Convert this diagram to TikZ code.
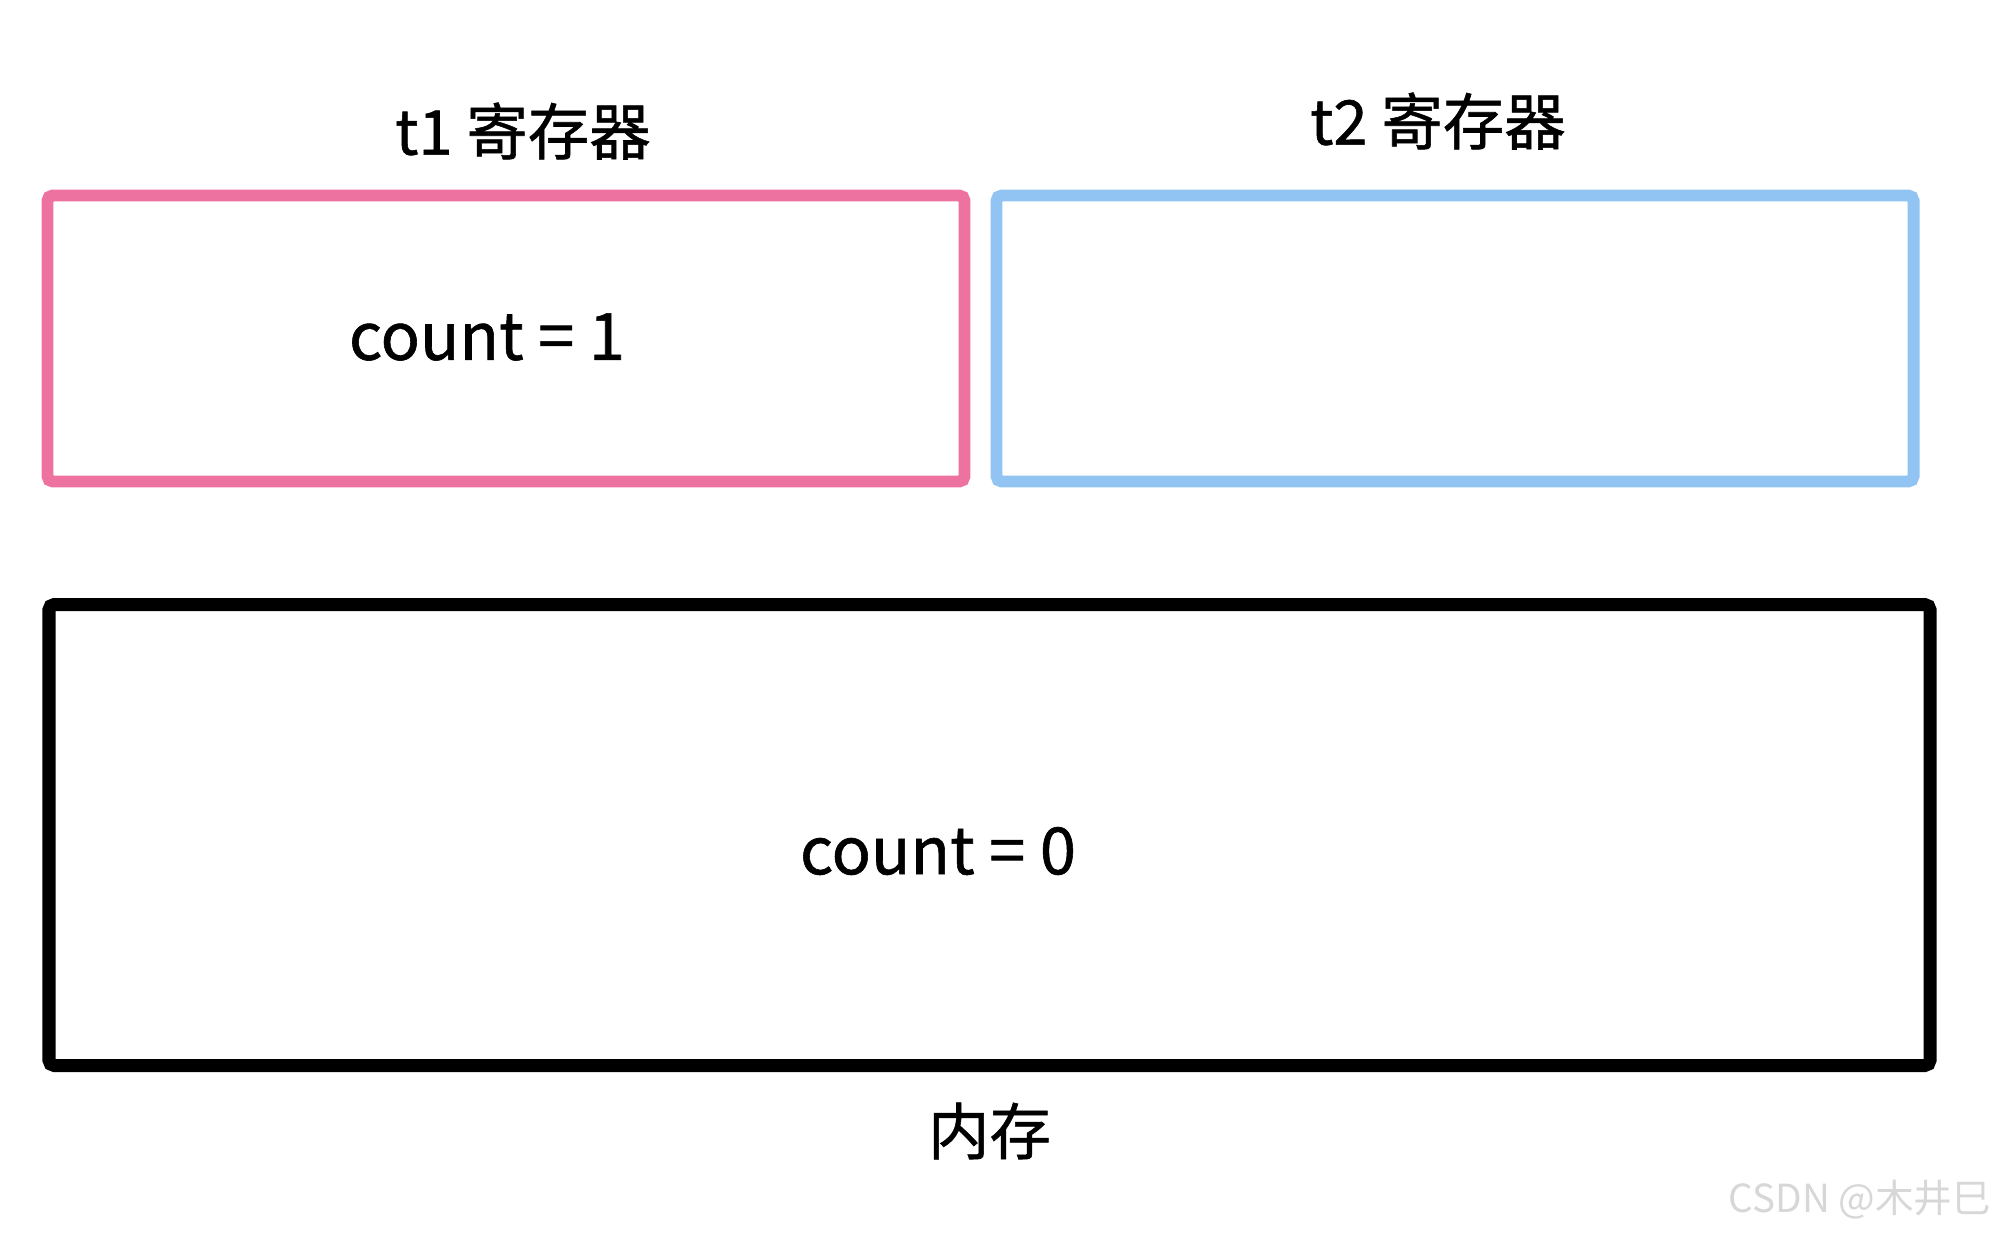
\documentclass[tikz,border=0pt]{standalone}
\usepackage{fontspec}
\setmainfont{Noto Sans CJK SC}
\newfontfamily\medfont[FakeBold=0.9]{Noto Sans CJK SC}
\usetikzlibrary{positioning}
\definecolor{regpink}{RGB}{238,114,160}
\definecolor{regblue}{RGB}{145,196,242}
\definecolor{markgray}{RGB}{215,215,215}
\tikzset{
  regbox/.style={rectangle,rounded corners=1.5pt,line width=3.4pt,minimum width=9.17cm,minimum height=2.86cm,inner sep=0pt},
  t1box/.style={regbox,draw=regpink},
  t2box/.style={regbox,draw=regblue},
  membox/.style={rectangle,rounded corners=1.5pt,draw=black,line width=3.7pt,minimum width=18.81cm,minimum height=4.61cm,inner sep=0pt},
  titletext/.style={font=\medfont\fontsize{17.5}{20}\selectfont,inner sep=0pt},
  valtext/.style={font=\medfont\fontsize{18.5}{22}\selectfont,inner sep=0pt},
  marktext/.style={font=\fontsize{11}{13}\selectfont,text=markgray,inner sep=0pt}
}

\begin{document}
\begin{tikzpicture}
  \useasboundingbox (0,0) rectangle (19.92,-12.35);

  \node[t1box] (t1reg) at (5.06,-3.385) {};
  \node[t2box] (t2reg) at (14.55,-3.385) {};
  \node[membox] (mem) at (9.895,-8.35) {};

  \node[titletext] (t1name) at (5.23,-1.31) {t1 寄存器};
  \node[titletext] (t2name) at (14.38,-1.21) {t2 寄存器};
  \node[valtext] (t1val) at (4.87,-3.37) {count = 1};
  \node[valtext] (memval) at (9.38,-8.51) {count = 0};
  \node[titletext,below=0.3cm of mem] (memname) {内存};

  \node[marktext] (mark) at (18.6,-12.0) {CSDN @木井巳};
\end{tikzpicture}
\end{document}
